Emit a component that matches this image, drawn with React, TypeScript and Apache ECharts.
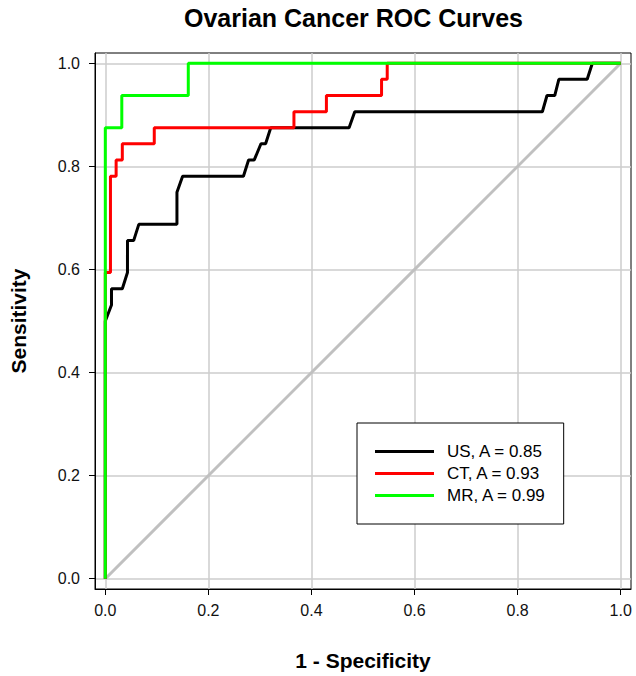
import React, { useEffect, useRef } from "react";
import * as echarts from "echarts";

const titleText = "Ovarian Cancer ROC Curves";
const xName = "1 - Specificity";
const yName = "Sensitivity";
const tickValues = [0, 0.2, 0.4, 0.6, 0.8, 1.0];

const seriesNames = ["US, A = 0.85", "CT, A = 0.93", "MR, A = 0.99"];
const seriesColors = ["#000000", "#ff0000", "#00ff00"];

const usFpr = [0, 0, 0.012, 0.012, 0.033, 0.043, 0.043, 0.055, 0.065, 0.139, 0.139, 0.15, 0.268, 0.278, 0.289, 0.302, 0.311, 0.321, 0.473, 0.484, 0.848, 0.857, 0.872, 0.88, 0.935, 0.945, 1];
const usTpr = [0, 0.5, 0.531, 0.5625, 0.5625, 0.594, 0.656, 0.656, 0.6875, 0.6875, 0.75, 0.781, 0.781, 0.8125, 0.8125, 0.844, 0.844, 0.875, 0.875, 0.906, 0.906, 0.9375, 0.9375, 0.969, 0.969, 1, 1];

const ctFpr = [0, 0, 0.01, 0.01, 0.021, 0.021, 0.033, 0.033, 0.095, 0.095, 0.366, 0.366, 0.429, 0.429, 0.536, 0.536, 0.547, 0.547, 1];
const ctTpr = [0, 0.594, 0.594, 0.781, 0.781, 0.8125, 0.8125, 0.844, 0.844, 0.875, 0.875, 0.906, 0.906, 0.9375, 0.9375, 0.969, 0.969, 1, 1];

const mrFpr = [0, 0, 0.032, 0.032, 0.161, 0.161, 1];
const mrTpr = [0, 0.875, 0.875, 0.9375, 0.9375, 1, 1];

const diagFpr = [0, 1];
const diagTpr = [0, 1];

const FONT = "'Liberation Sans', Arial, Helvetica, sans-serif";

function pairs(xs: number[], ys: number[]) {
  return xs.map((x, i) => [x, ys[i]]);
}

export default function App() {
  const ref = useRef<HTMLDivElement>(null);
  useEffect(() => {
    if (!ref.current) return;
    const chart = echarts.init(ref.current, undefined, { renderer: "svg" });
    const curves = [
      pairs(usFpr, usTpr),
      pairs(ctFpr, ctTpr),
      pairs(mrFpr, mrTpr),
    ];
    const axisCommon = {
      type: "value" as const,
      min: -0.02,
      max: 1.02,
      axisLine: { show: true, onZero: false, lineStyle: { color: "#000", width: 1 } },
      axisTick: {
        show: true,
        inside: false,
        length: 6,
        customValues: tickValues,
        lineStyle: { color: "#000", width: 1 },
      },
      axisLabel: {
        show: true,
        customValues: tickValues,
        formatter: (v: number) => v.toFixed(1),
        fontSize: 16,
        color: "#111",
        fontFamily: FONT,
      },
      splitLine: { show: true, lineStyle: { color: "#cccccc", width: 1.5 } },
      nameLocation: "middle" as const,
      nameTextStyle: { fontSize: 21, fontWeight: "bold" as const, color: "#000", fontFamily: FONT },
    };
    chart.setOption({
      animation: false,
      backgroundColor: "#ffffff",
      title: {
        text: titleText,
        left: 184,
        top: 5,
        padding: 0,
        textStyle: { fontSize: 25, fontWeight: "bold", color: "#000", fontFamily: FONT },
      },
      grid: {
        left: 94,
        top: 53,
        width: 537,
        height: 537,
        show: true,
        borderColor: "#000",
        borderWidth: 1,
        backgroundColor: "transparent",
      },
      xAxis: {
        ...axisCommon,
        name: xName,
        nameGap: 61,
        axisLabel: { ...axisCommon.axisLabel, margin: 13 },
      },
      yAxis: {
        ...axisCommon,
        name: yName,
        nameGap: 66,
        axisLabel: { ...axisCommon.axisLabel, margin: 15 },
      },
      legend: {
        data: seriesNames,
        orient: "vertical",
        left: 357,
        top: 423,
        padding: [20, 17, 20, 18],
        itemGap: 5,
        itemWidth: 59,
        itemHeight: 3,
        icon: "rect",
        backgroundColor: "#fff",
        borderColor: "#000",
        borderWidth: 1,
        borderRadius: 0,
        textStyle: { fontSize: 17, color: "#000", fontFamily: FONT, padding: [0, 0, 0, 8] },
      },
      series: [
        {
          name: "diag",
          type: "line",
          data: pairs(diagFpr, diagTpr),
          showSymbol: false,
          lineStyle: { color: "#c0c0c0", width: 3 },
          itemStyle: { color: "#c0c0c0" },
          silent: true,
        },
        ...curves.map((d, i) => ({
          name: seriesNames[i],
          type: "line",
          data: d,
          showSymbol: false,
          lineStyle: { color: seriesColors[i], width: 3 },
          itemStyle: { color: seriesColors[i] },
        })),
      ],
    });
    return () => chart.dispose();
  }, []);
  return (
    <div
      ref={ref}
      style={{ position: "fixed", left: 0, top: 0, width: 636, height: 676, background: "#fff" }}
    />
  );
}
